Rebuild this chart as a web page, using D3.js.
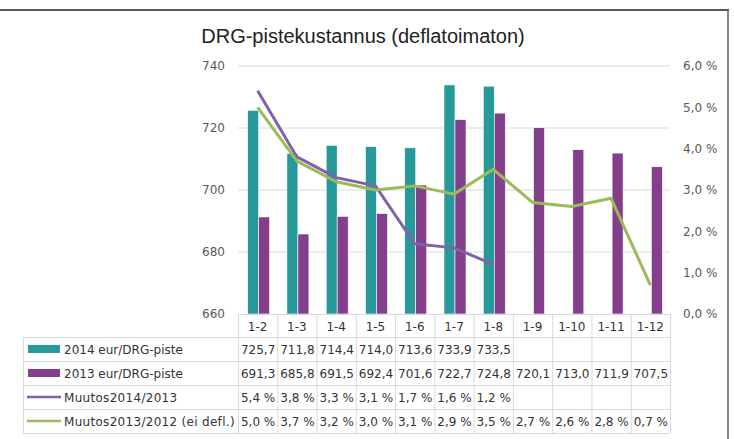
<!DOCTYPE html>
<html>
<head>
<meta charset="utf-8">
<script src="https://cdn.jsdelivr.net/npm/d3@7"></script>
<style>
body { margin: 0; background: #fff; }
svg { display: block; }
</style>
</head>
<body>
<script>
'use strict';

var categories = ["1-2", "1-3", "1-4", "1-5", "1-6", "1-7", "1-8", "1-9", "1-10", "1-11", "1-12"];
var eur2014 = [725.7, 711.8, 714.4, 714.0, 713.6, 733.9, 733.5, null, null, null, null];
var eur2013 = [691.3, 685.8, 691.5, 692.4, 701.6, 722.7, 724.8, 720.1, 713.0, 711.9, 707.5];
var muutos1413 = [5.4, 3.8, 3.3, 3.1, 1.7, 1.6, 1.2, null, null, null, null];
var muutos1312 = [5.0, 3.7, 3.2, 3.0, 3.1, 2.9, 3.5, 2.7, 2.6, 2.8, 0.7];
var leftTicks = [660, 680, 700, 720, 740];
var rightTicks = [0, 1, 2, 3, 4, 5, 6];
var seriesNames = ["2014 eur/DRG-piste", "2013 eur/DRG-piste", "Muutos2014/2013", "Muutos2013/2012 (ei defl.)"];

var width = 734, height = 439;
var teal = "#28999a", purple = "#843f8c", lav = "#7f62a8", green = "#9bbb59";
var font = "'DejaVu Sans', sans-serif";

var fi = d3.formatLocale({decimal: ",", thousands: " ", grouping: [3], currency: ["", "€"]});
var f1 = fi.format(".1f");

var svg = d3.select("body").append("svg")
  .attr("width", width)
  .attr("height", height);

// frame
svg.append("line").attr("x1", 0).attr("x2", 729).attr("y1", 10).attr("y2", 10)
  .attr("stroke", "#222").attr("stroke-width", 1.6);
svg.append("line").attr("x1", 728).attr("x2", 728).attr("y1", 10).attr("y2", height)
  .attr("stroke", "#666").attr("stroke-width", 1.6);

svg.append("text")
  .attr("x", 363).attr("y", 43)
  .attr("text-anchor", "middle")
  .style("font-family", "'Liberation Sans', Arial, sans-serif")
  .style("font-size", "20px")
  .attr("fill", "#222")
  .text("DRG-pistekustannus (deflatoimaton)");

var x = d3.scaleBand().domain(categories).range([238, 670]).padding(0);
var y = d3.scaleLinear().domain([660, 740]).range([314, 66]);
var y2 = d3.scaleLinear().domain([0, 6]).range([314, 66]);

// grid
svg.append("g").selectAll("line")
  .data(leftTicks.slice(1))
  .join("line")
    .attr("x1", 238).attr("x2", 670)
    .attr("y1", d => y(d)).attr("y2", d => y(d))
    .attr("stroke", "#d9d9d9").attr("stroke-width", 1);

var yAxis = svg.append("g")
  .attr("transform", "translate(231,0)")
  .call(d3.axisLeft(y).tickValues(leftTicks).tickSize(0).tickPadding(6));
yAxis.select(".domain").remove();
yAxis.selectAll("text").style("font-family", font).style("font-size", "12px").attr("fill", "#595959");

var y2Axis = svg.append("g")
  .attr("transform", "translate(677,0)")
  .call(d3.axisRight(y2).tickValues(rightTicks).tickSize(0).tickPadding(6)
    .tickFormat(d => f1(d) + " %"));
y2Axis.select(".domain").remove();
y2Axis.selectAll("text").style("font-family", font).style("font-size", "12px").attr("fill", "#595959");

// bars
var bw = 11;
var off = (x.bandwidth() - 2 * bw) / 2 + 1;
svg.append("g").selectAll("rect")
  .data(categories.map((c, i) => ({c: c, v: eur2014[i]})).filter(d => d.v != null))
  .join("rect")
    .attr("x", d => x(d.c) + off)
    .attr("y", d => y(d.v))
    .attr("width", bw)
    .attr("height", d => y(660) - y(d.v))
    .attr("fill", teal)
    .attr("stroke", "#fff").attr("stroke-width", 0.6);
svg.append("g").selectAll("rect")
  .data(categories.map((c, i) => ({c: c, v: eur2013[i]})))
  .join("rect")
    .attr("x", d => x(d.c) + off + bw)
    .attr("y", d => y(d.v))
    .attr("width", bw)
    .attr("height", d => y(660) - y(d.v))
    .attr("fill", purple)
    .attr("stroke", "#fff").attr("stroke-width", 0.6);

var line = d3.line()
  .defined(d => d.v != null)
  .x(d => x(d.c) + x.bandwidth() / 2)
  .y(d => y2(d.v));

svg.append("path")
  .attr("d", line(categories.map((c, i) => ({c: c, v: muutos1413[i]}))))
  .attr("fill", "none").attr("stroke", lav).attr("stroke-width", 3)
  .attr("stroke-linejoin", "round");
svg.append("path")
  .attr("d", line(categories.map((c, i) => ({c: c, v: muutos1312[i]}))))
  .attr("fill", "none").attr("stroke", green).attr("stroke-width", 3)
  .attr("stroke-linejoin", "round");

// data table
var rowTop = 314, hdrH = 23, rowH = 24, legLeft = 23;
var rows = [
  {name: seriesNames[0], vals: eur2014, fmt: f1, kind: "bar", color: teal},
  {name: seriesNames[1], vals: eur2013, fmt: f1, kind: "bar", color: purple},
  {name: seriesNames[2], vals: muutos1413, fmt: d => f1(d) + " %", kind: "line", color: lav},
  {name: seriesNames[3], vals: muutos1312, fmt: d => f1(d) + " %", kind: "line", color: green}
];
var tbl = svg.append("g");
var gridC = "#d9d9d9";
var bodyTop = rowTop + hdrH;
var bottom = bodyTop + rows.length * rowH;

// horizontal rules
tbl.append("line").attr("x1", 238).attr("x2", 670).attr("y1", rowTop + 0.5).attr("y2", rowTop + 0.5).attr("stroke", gridC);
d3.range(rows.length + 1).forEach(function(i) {
  var yy = bodyTop + i * rowH + 0.5;
  tbl.append("line").attr("x1", legLeft).attr("x2", 670).attr("y1", yy).attr("y2", yy).attr("stroke", gridC);
});
// vertical rules
tbl.append("line").attr("x1", legLeft + 0.5).attr("x2", legLeft + 0.5).attr("y1", bodyTop).attr("y2", bottom).attr("stroke", gridC);
categories.concat(["end"]).forEach(function(c, i) {
  var xx = (i < categories.length ? x(c) : 670) + 0.5;
  tbl.append("line").attr("x1", xx).attr("x2", xx).attr("y1", rowTop).attr("y2", bottom).attr("stroke", gridC);
});

tbl.selectAll("text.hdr")
  .data(categories)
  .join("text")
    .attr("class", "hdr")
    .attr("x", d => x(d) + x.bandwidth() / 2)
    .attr("y", rowTop + hdrH / 2 + 5)
    .attr("text-anchor", "middle")
    .style("font-family", font).style("font-size", "12px")
    .attr("fill", "#333")
    .text(d => d);

rows.forEach(function(r, ri) {
  var ry = bodyTop + ri * rowH;
  var cy = ry + rowH / 2;
  if (r.kind === "bar") {
    tbl.append("rect").attr("x", 28).attr("y", cy - 4).attr("width", 32).attr("height", 8).attr("fill", r.color);
  } else {
    tbl.append("line").attr("x1", 27).attr("x2", 61).attr("y1", cy).attr("y2", cy)
      .attr("stroke", r.color).attr("stroke-width", 2.5);
  }
  tbl.append("text")
    .attr("x", 64).attr("y", cy + 4.5)
    .style("font-family", font).style("font-size", "12px")
    .style("letter-spacing", ri >= 2 ? "0.3px" : "0px")
    .attr("fill", "#333")
    .text(r.name);
  tbl.selectAll("text.v" + ri)
    .data(categories.map((c, i) => ({c: c, v: r.vals[i]})).filter(d => d.v != null))
    .join("text")
      .attr("x", d => x(d.c) + x.bandwidth() / 2 + 0.5)
      .attr("y", cy + 4.5)
      .attr("text-anchor", "middle")
      .style("font-family", font).style("font-size", "12px")
      .attr("fill", "#333")
      .text(d => r.fmt(d.v));
});
</script>
</body>
</html>
